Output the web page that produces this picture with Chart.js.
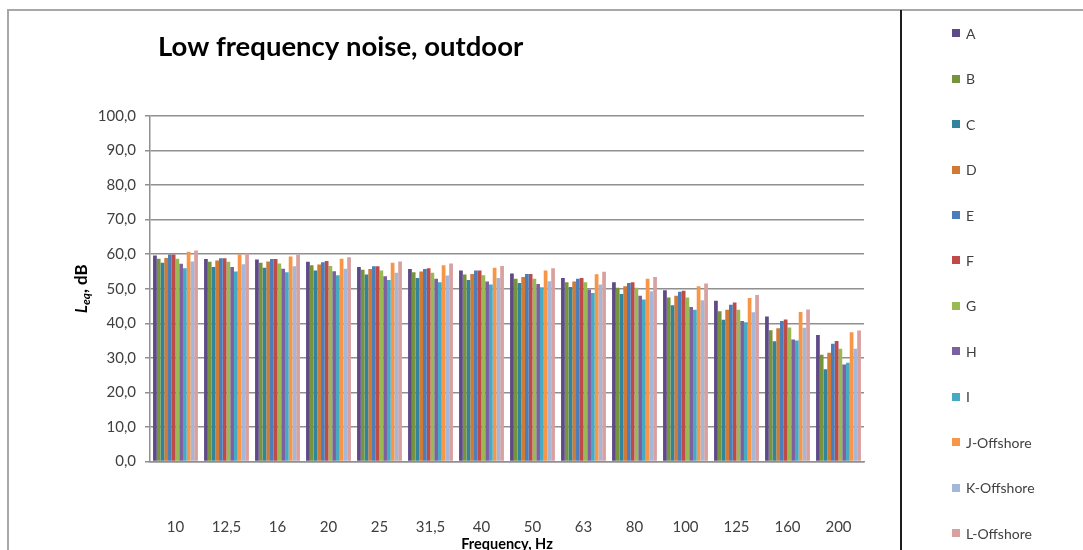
<!DOCTYPE html>
<html>
<head>
<meta charset="utf-8">
<script src="https://cdn.jsdelivr.net/npm/chart.js@4/dist/chart.umd.min.js"></script>
<style>
  html, body { margin: 0; padding: 0; background: #fff; }
  #wrap { position: relative; width: 1083px; height: 550px; overflow: hidden; }
  #chart { position: absolute; left: 0; top: 0; }
  #legend { position: absolute; left: 0; top: 0; width: 1083px; height: 550px; pointer-events: none; }
  .item { position: absolute; left: 952px; height: 16px; display: flex; align-items: center;
          font: 14px Lato, sans-serif; color: #404040; white-space: nowrap; }
  .item span.box { display: inline-block; width: 8px; height: 8px; margin-right: 6px; }
</style>
</head>
<body>
<div id="wrap">
  <canvas id="chart" width="1083" height="550"></canvas>
  <div id="legend"></div>
</div>
<script>
// Third-octave band centre frequencies (Hz)
const categories = ['10', '12,5', '16', '20', '25', '31,5', '40', '50', '63', '80', '100', '125', '160', '200'];

// Leq per measurement site, dB
const seriesNames = ['A', 'B', 'C', 'D', 'E', 'F', 'G', 'H', 'I', 'J-Offshore', 'K-Offshore', 'L-Offshore'];
const A = [59.6, 58.6, 58.5, 57.8, 56.3, 55.7, 55.3, 54.4, 53.1, 51.9, 49.6, 46.5, 42.0, 36.6];
const B = [58.7, 57.8, 57.5, 56.8, 55.5, 54.8, 54.1, 52.9, 51.9, 50.3, 47.5, 43.5, 38.0, 30.9];
const C = [57.5, 56.3, 56.1, 55.3, 54.1, 53.1, 52.5, 51.7, 50.5, 48.5, 45.2, 41.0, 34.8, 26.7];
const D = [58.9, 58.2, 57.9, 57.0, 55.7, 55.0, 54.3, 53.4, 52.1, 50.7, 48.0, 43.9, 38.6, 31.5];
const E = [59.9, 58.8, 58.6, 57.7, 56.5, 55.7, 55.3, 54.3, 52.9, 51.7, 49.1, 45.4, 40.7, 34.1];
const F = [59.9, 58.8, 58.6, 58.0, 56.5, 55.9, 55.3, 54.3, 53.1, 51.9, 49.4, 46.0, 41.1, 34.9];
const G = [58.7, 57.8, 57.3, 56.6, 55.3, 54.6, 53.9, 52.9, 51.9, 50.3, 47.5, 43.9, 38.8, 32.6];
const H = [57.2, 56.3, 55.8, 55.1, 53.6, 52.9, 52.1, 51.4, 49.8, 48.0, 44.7, 40.7, 35.3, 28.1];
const I = [55.9, 55.0, 54.8, 53.9, 52.5, 51.9, 51.2, 50.4, 48.8, 46.9, 43.9, 40.3, 35.0, 28.6];
const J = [60.7, 59.9, 59.3, 58.7, 57.5, 56.8, 56.1, 55.3, 54.2, 52.9, 50.7, 47.3, 43.3, 37.4];
const K = [57.9, 57.1, 56.5, 55.8, 54.6, 53.8, 53.1, 52.2, 51.2, 49.3, 46.7, 43.2, 38.7, 32.6];
const L = [61.1, 60.2, 59.9, 59.1, 57.9, 57.3, 56.6, 55.9, 54.9, 53.4, 51.5, 48.2, 44.0, 37.9];
const seriesValues = [A, B, C, D, E, F, G, H, I, J, K, L];

const seriesColors = ['#5f4a88', '#77933c', '#31849b', '#d07a35', '#4a7ebb', '#be4b48',
                      '#98b954', '#7d60a0', '#46aac5', '#f79646', '#a5b7d9', '#d9a0a0'];

// Y axis ticks
const yTicks = { min: 0, max: 100, step: 10 };

const chartTitle = 'Low frequency noise, outdoor';
const xTitle = 'Frequency, Hz';

const tickColor = '#404040';
const gridColor = '#8f8f8f';

// Frame, chart title and the subscripted y-axis title
const decorations = {
  id: 'decorations',
  beforeDraw(chart) {
    const ctx = chart.ctx;
    ctx.save();
    ctx.fillStyle = '#ffffff';
    ctx.fillRect(0, 0, chart.width, chart.height);
    ctx.strokeStyle = '#a8a8a8';
    ctx.lineWidth = 2;
    ctx.beginPath();
    ctx.moveTo(7, 10); ctx.lineTo(chart.width, 10);
    ctx.moveTo(8, 10); ctx.lineTo(8, chart.height);
    ctx.stroke();
    ctx.strokeStyle = '#1e1e1e';
    ctx.lineWidth = 2;
    ctx.beginPath();
    ctx.moveTo(901, 10); ctx.lineTo(901, chart.height);
    ctx.stroke();
    ctx.restore();
  },
  afterDraw(chart) {
    const ctx = chart.ctx;
    const area = chart.chartArea;
    ctx.save();
    // chart title
    ctx.fillStyle = '#000000';
    ctx.font = 'bold 27.5px Lato, sans-serif';
    ctx.textBaseline = 'alphabetic';
    ctx.textAlign = 'left';
    ctx.fillText(chartTitle, area.left + 8, 56);

    // y-axis title: L_eq, dB (rotated)
    const parts = [
      { t: 'L', font: 'italic bold 17px Lato, sans-serif', dy: 0 },
      { t: 'eq', font: 'italic bold 12px Lato, sans-serif', dy: 3 },
      { t: ', dB', font: 'bold 17px Lato, sans-serif', dy: 0 }
    ];
    let total = 0;
    parts.forEach(p => { ctx.font = p.font; p.w = ctx.measureText(p.t).width; total += p.w; });
    ctx.translate(87, (area.top + area.bottom) / 2);
    ctx.rotate(-Math.PI / 2);
    ctx.fillStyle = '#000000';
    let x = -total / 2;
    parts.forEach(p => { ctx.font = p.font; ctx.fillText(p.t, x, p.dy); x += p.w; });
    ctx.restore();
  }
};

const datasets = seriesNames.map((name, i) => ({
  label: name,
  data: seriesValues[i],
  backgroundColor: seriesColors[i],
  borderWidth: 0,
  categoryPercentage: 0.88,
  barPercentage: 1.0
}));

const chart = new Chart(document.getElementById('chart'), {
  type: 'bar',
  data: { labels: categories, datasets },
  plugins: [decorations],
  options: {
    responsive: false,
    animation: false,
    devicePixelRatio: 1,
    layout: { padding: { top: 116, right: 219, bottom: 0, left: 0 } },
    plugins: {
      legend: { display: false },
      title: { display: false },
      tooltip: { enabled: false }
    },
    scales: {
      x: {
        grid: { display: false, drawTicks: false },
        border: { display: true, color: gridColor, width: 1.5 },
        ticks: { color: tickColor, font: { family: 'Lato', size: 15 }, padding: 57, maxRotation: 0 },
        title: { display: true, text: xTitle, color: '#000000',
                 font: { family: 'Lato', size: 14.5, weight: 'bold', lineHeight: 0.8 }, padding: { top: 0, bottom: 0 } },
        afterFit(scale) { scale.height = 88.5; }
      },
      y: {
        min: yTicks.min,
        max: yTicks.max,
        grid: { color: gridColor, lineWidth: 1.5, tickLength: 5, drawTicks: true },
        border: { display: true, color: gridColor, width: 1.5 },
        ticks: {
          stepSize: yTicks.step,
          color: tickColor,
          font: { family: 'Lato', size: 15 },
          padding: 9,
          callback: v => v.toFixed(1).replace('.', ',')
        },
        afterFit(scale) { scale.width = 150; }
      }
    }
  }
});

// Legend list built from the chart's own legend items
const legendEl = document.getElementById('legend');
const items = Chart.defaults.plugins.legend.labels.generateLabels(chart);
items.forEach((it, i) => {
  const row = document.createElement('div');
  row.className = 'item';
  row.style.top = (33.3 + i * 45.43 - 8) + 'px';
  const box = document.createElement('span');
  box.className = 'box';
  box.style.background = it.fillStyle;
  row.appendChild(box);
  row.appendChild(document.createTextNode(it.text));
  legendEl.appendChild(row);
});
</script>
</body>
</html>
